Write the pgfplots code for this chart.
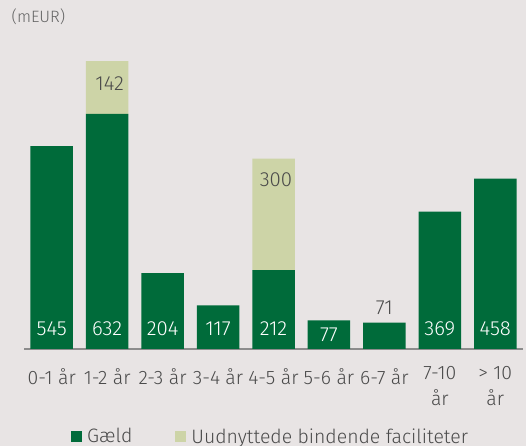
\documentclass[border=0pt]{standalone}
\usepackage{fontspec}
\setmainfont{Fira Sans Light}
\usepackage{pgfplots}
\pgfplotsset{compat=1.18}
\definecolor{bg}{HTML}{E8E4E4}
\definecolor{dgreen}{HTML}{006B3A}
\definecolor{lgreen}{HTML}{CDD4A7}
\definecolor{txt}{HTML}{4A4A4A}
\definecolor{axisgray}{HTML}{8C8C8C}
\tikzset{lab/.style={font=\fontsize{20.5}{24}\selectfont, inner sep=0pt, anchor=base}}
\begin{document}
\begin{tikzpicture}
\fill[bg] (0,0) rectangle (526bp,446bp);
\useasboundingbox (0,0) rectangle (526bp,446bp);
\node[anchor=base west, text=txt!85, font=\fontsize{16.5}{18}\selectfont, inner sep=0pt] at (11.5bp,423.3bp) {(mEUR)};
\begin{axis}[
  at={(24bp,97bp)}, anchor=south west,
  scale only axis, width=499bp, height=308.8bp,
  xmin=-0.5, xmax=8.5, ymin=0, ymax=830,
  ybar stacked, bar width=42.5bp,
  axis x line*=bottom, axis y line=none,
  x axis line style={draw=axisgray, line width=2bp, -},
  xtick={0,...,8},
  xticklabels={0-1 år,1-2 år,2-3 år,3-4 år,4-5 år,5-6 år,6-7 år,{7-10\\år},{> 10\\år}},
  major tick length=0pt,
  xticklabel style={font=\fontsize{19.5}{26}\selectfont, text=txt, align=center, anchor=north, yshift=-16.8bp, inner sep=0pt, execute at begin node=\strut},
  clip=false,
  legend columns=2,
  legend image code/.code={\fill[#1] (0bp,-5.5bp) rectangle (11bp,5.5bp);},
  legend style={at={(0.0942,-0.2834)}, anchor=west, draw=none, fill=none, inner sep=0pt,
    nodes={inner sep=0pt, font=\fontsize{19.5}{22}\selectfont, text=txt},
    /tikz/every odd column/.style={column sep=5bp},
    /tikz/every even column/.style={column sep=43bp}},
]
\addplot[fill=dgreen, draw=none]
  coordinates {(0,545) (1,632) (2,204) (3,117) (4,212) (5,77) (6,71) (7,369) (8,458)};
\addplot[fill=lgreen, draw=none]
  coordinates {(0,0) (1,142) (2,0) (3,0) (4,300) (5,0) (6,0) (7,0) (8,0)};
\legend{Gæld, Uudnyttede bindende faciliteter}
\coordinate (b0) at (axis cs:0,0);
\coordinate (b1) at (axis cs:1,0);
\coordinate (b2) at (axis cs:2,0);
\coordinate (b3) at (axis cs:3,0);
\coordinate (b4) at (axis cs:4,0);
\coordinate (b5) at (axis cs:5,0);
\coordinate (b6) at (axis cs:6,71);
\coordinate (b7) at (axis cs:7,0);
\coordinate (b8) at (axis cs:8,0);
\coordinate (t1) at (axis cs:1,774);
\coordinate (t4) at (axis cs:4,512);
\end{axis}
\node[lab, text=white, yshift=13bp] at (b0) {545};
\node[lab, text=white, yshift=13bp] at (b1) {632};
\node[lab, text=white, yshift=13bp] at (b2) {204};
\node[lab, text=white, yshift=13bp] at (b3) {117};
\node[lab, text=white, yshift=13bp] at (b4) {212};
\node[lab, text=white, yshift=7.3bp] at (b5) {77};
\node[lab, text=txt, yshift=7.7bp] at (b6) {71};
\node[lab, text=white, yshift=13bp] at (b7) {369};
\node[lab, text=white, yshift=13bp] at (b8) {458};
\node[lab, text=txt, yshift=-29.3bp, xshift=2.5bp] at (t1) {142};
\node[lab, text=txt, yshift=-28.4bp, xshift=2.5bp] at (t4) {300};
\end{tikzpicture}
\end{document}
